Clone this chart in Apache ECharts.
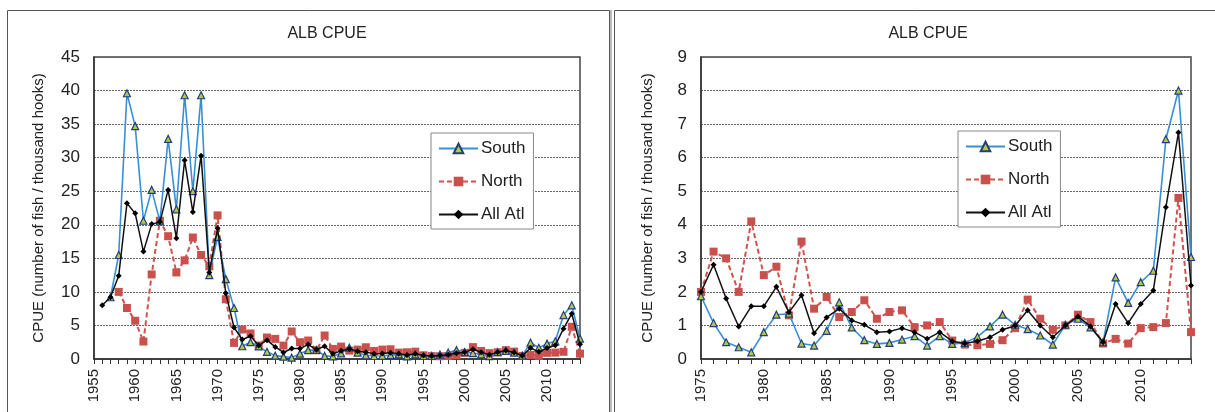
<!DOCTYPE html>
<html><head><meta charset="utf-8">
<script src="https://cdn.jsdelivr.net/npm/echarts@6/dist/echarts.min.js"></script>
<style>html,body{margin:0;padding:0;background:#fff}#c{width:1215px;height:412px}</style>
</head><body><div id="c"></div>
<script>
// Years for each panel
const yearsLeft = []; for (let y = 1955; y <= 2014; y++) yearsLeft.push(String(y));
const yearsRight = []; for (let y = 1975; y <= 2014; y++) yearsRight.push(String(y));

// 1955-1974 (left panel only)
const south55 = [null, null, 9.2, 15.5, 39.6, 34.7, 20.6, 25.2, 20.5, 32.8, 22.3, 39.3, 25.0, 39.3, 12.5, 18.2, 11.9, 7.6, 1.9, 2.5];
const north55 = [null, null, null, 10.0, 7.6, 5.7, 2.6, 12.6, 20.6, 18.3, 12.9, 14.7, 18.1, 15.5, 13.8, 21.4, 8.9, 2.4, 4.4, 3.8];
const all55   = [null, 8.0, 9.2, 12.4, 23.2, 21.7, 16.0, 20.1, 20.4, 25.2, 18.0, 29.6, 21.9, 30.3, 12.9, 19.5, 9.8, 4.7, 2.9, 3.4];

// 1975-2014 (both panels)
const south75 = [1.87, 1.07, 0.5, 0.35, 0.2, 0.8, 1.32, 1.35, 0.46, 0.4, 0.84, 1.69, 0.94, 0.56, 0.45, 0.48, 0.58, 0.68, 0.4, 0.68, 0.45, 0.48, 0.66, 0.97, 1.32, 1.02, 0.89, 0.7, 0.43, 1.02, 1.2, 0.94, 0.5, 2.43, 1.67, 2.29, 2.63, 6.55, 8.0, 3.04];
const north75 = [2.0, 3.2, 3.0, 2.0, 4.1, 2.5, 2.75, 1.3, 3.5, 1.5, 1.85, 1.25, 1.4, 1.75, 1.2, 1.4, 1.45, 0.95, 1.0, 1.1, 0.55, 0.43, 0.41, 0.45, 0.56, 0.92, 1.77, 1.2, 0.87, 1.0, 1.32, 1.1, 0.46, 0.6, 0.46, 0.92, 0.95, 1.07, 4.8, 0.8];
const all75   = [2.0, 2.81, 1.8, 0.97, 1.57, 1.57, 2.15, 1.39, 1.9, 0.77, 1.24, 1.5, 1.15, 1.02, 0.8, 0.82, 0.92, 0.8, 0.6, 0.8, 0.53, 0.46, 0.53, 0.65, 0.87, 0.99, 1.45, 1.0, 0.65, 1.0, 1.27, 0.97, 0.5, 1.64, 1.07, 1.64, 2.04, 4.52, 6.75, 2.19];

const yTicksLeft = {min: 0, max: 45, interval: 5};
const yTicksRight = {min: 0, max: 9, interval: 1};
const titleText = 'ALB CPUE';
const yName = 'CPUE (number of fish / thousand hooks)';
const seriesNames = ['South', 'North', 'All Atl'];

const FONT = '"Liberation Sans", Arial, sans-serif';

function styleFor(name) {
  if (name === 'South') return {
    symbol: 'triangle', symbolSize: 7,
    lineStyle: {color: '#3a8ed6', width: 1.6, type: 'solid'},
    itemStyle: {color: '#b7c93a', borderColor: '#1f3f80', borderWidth: 1.2}
  };
  if (name === 'North') return {
    symbol: 'rect', symbolSize: 8,
    lineStyle: {color: '#d0524f', width: 2, type: [5, 3]},
    itemStyle: {color: '#c9504c', borderColor: '#c9504c', borderWidth: 0}
  };
  return {
    symbol: 'diamond', symbolSize: 6,
    lineStyle: {color: '#111', width: 1.5, type: 'solid'},
    itemStyle: {color: '#000', borderColor: '#000', borderWidth: 0}
  };
}

function mkSeries(name, data, idx) {
  const s = styleFor(name);
  return Object.assign({
    name, type: 'line', data, xAxisIndex: idx, yAxisIndex: idx,
    showSymbol: true, showAllSymbol: true, connectNulls: false, animation: false,
    z: name === 'All Atl' ? 4 : (name === 'South' ? 3 : 2)
  }, s);
}

function xAxisFor(cats, gridIndex) {
  return {
    type: 'category', gridIndex, data: cats, boundaryGap: false,
    axisLine: {show: true, lineStyle: {color: '#333', width: 1.5}},
    axisTick: {show: true, interval: 0, inside: false, length: 5, lineStyle: {color: '#333'}},
    axisLabel: {interval: 4, rotate: 90, margin: 10, fontSize: 15, color: '#222', fontFamily: FONT},
    splitLine: {show: false}
  };
}
function yAxisFor(t, gridIndex, gap) {
  return {
    type: 'value', gridIndex, min: t.min, max: t.max, interval: t.interval,
    name: yName, nameLocation: 'middle', nameGap: gap, nameRotate: 90,
    nameTextStyle: {fontSize: 15, color: '#222', fontFamily: FONT},
    axisLine: {show: true, lineStyle: {color: '#333', width: 1.5}},
    axisTick: {show: false},
    axisLabel: {fontSize: 17, color: '#222', margin: 14, fontFamily: FONT},
    splitLine: {show: true, lineStyle: {color: '#666', type: [2, 1], width: 1}}
  };
}
function legendFor(left, top) {
  return {
    data: seriesNames, orient: 'vertical', left, top,
    itemWidth: 39, itemHeight: 12, itemGap: 16,
    padding: [7, 8, 6, 7],
    backgroundColor: '#fff', borderColor: '#888', borderWidth: 1, borderRadius: 0,
    textStyle: {fontSize: 17, color: '#222', fontFamily: FONT, padding: [0, 0, 0, -2]},
    selectedMode: false
  };
}

const chart = echarts.init(document.getElementById('c'), null, {renderer: 'canvas'});
chart.setOption({
  animation: false,
  backgroundColor: '#fff',
  title: [
    {text: titleText, left: 322, top: 21, textAlign: 'center', textStyle: {fontSize: 16, fontWeight: 'normal', color: '#222', fontFamily: FONT}},
    {text: titleText, left: 923, top: 21, textAlign: 'center', textStyle: {fontSize: 16, fontWeight: 'normal', color: '#222', fontFamily: FONT}}
  ],
  legend: [legendFor(431, 133), legendFor(958, 131)],
  grid: [
    {left: 94, top: 57, width: 486, height: 302, show: true, borderColor: '#444', borderWidth: 1.5, backgroundColor: 'transparent'},
    {left: 701, top: 57, width: 490, height: 302, show: true, borderColor: '#444', borderWidth: 1.5, backgroundColor: 'transparent'}
  ],
  xAxis: [xAxisFor(yearsLeft, 0), xAxisFor(yearsRight, 1)],
  yAxis: [yAxisFor(yTicksLeft, 0, 48), yAxisFor(yTicksRight, 1, 46)],
  graphic: [
    {type: 'rect', shape: {x: 7.5, y: 10.5, width: 602, height: 430}, style: {fill: 'none', stroke: '#555', lineWidth: 1}, silent: true},
    {type: 'line', shape: {x1: 611, y1: 10, x2: 611, y2: 412}, style: {stroke: '#bbb', lineWidth: 2}, silent: true},
    {type: 'rect', shape: {x: 614.5, y: 10.5, width: 620, height: 430}, style: {fill: 'none', stroke: '#555', lineWidth: 1}, silent: true}
  ],
  series: [
    mkSeries('South', south55.concat(south75), 0),
    mkSeries('North', north55.concat(north75), 0),
    mkSeries('All Atl', all55.concat(all75), 0),
    mkSeries('South', south75, 1),
    mkSeries('North', north75, 1),
    mkSeries('All Atl', all75, 1)
  ]
});
</script></body></html>
